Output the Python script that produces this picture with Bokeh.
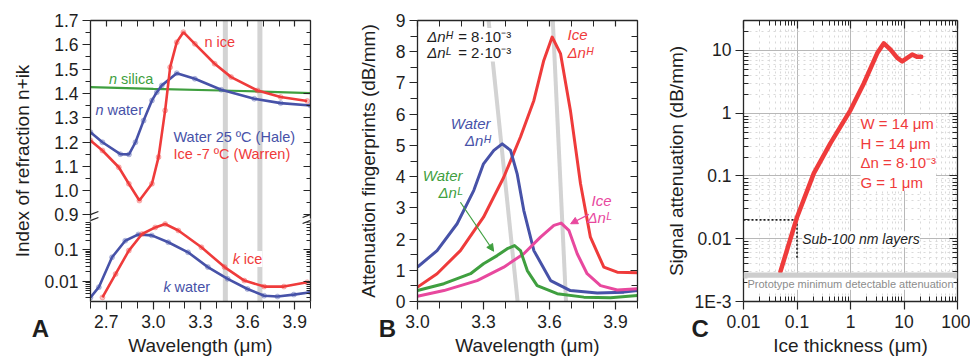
import math
from bokeh.plotting import figure
from bokeh.models import (Range1d, LinearAxis, LogAxis, LogScale, FixedTicker, Span,
                          Label, Arrow, NormalHead, Grid, Title)
from bokeh.layouts import row
from bokeh.embed import file_html
from bokeh.resources import INLINE

FONT = "Liberation Sans"
RED = "#ef3b3b"
BLUE = "#4752a8"
GREEN = "#3f9f3f"
PINK = "#e8489e"
BAR_GRAY = "#d3d3d3"
AXC = "#262626"
TXT = "#1e1e1e"
TICK_FS = "17.5px"
AXLAB_FS = "19px"
ANN_FS = "14.5px"
NBSP = "\u00a0"

# ---------------- Panel A data (refractive index) ----------------
a_wl_n_water = [2.60, 2.676, 2.79, 2.845, 2.886, 2.938, 2.991, 3.022, 3.054, 3.149, 3.264, 3.432, 3.642, 3.81, 4.00]
a_n_water = [1.240, 1.199, 1.150, 1.149, 1.199, 1.288, 1.371, 1.405, 1.433, 1.483, 1.460, 1.415, 1.378, 1.360, 1.350]

a_wl_n_ice = [2.60, 2.676, 2.78, 2.844, 2.911, 2.991, 3.033, 3.075, 3.107, 3.149, 3.191, 3.264, 3.39, 3.495, 3.663, 3.81, 3.979]
a_n_ice = [1.206, 1.165, 1.096, 1.028, 0.959, 1.028, 1.138, 1.330, 1.508, 1.611, 1.652, 1.604, 1.522, 1.467, 1.412, 1.385, 1.369]

a_wl_n_silica = [2.6, 3.0, 3.5, 4.0]
a_n_silica = [1.426, 1.419, 1.411, 1.401]

a_wl_k_water = [2.60, 2.653, 2.737, 2.821, 2.905, 2.99, 3.095, 3.221, 3.347, 3.473, 3.599, 3.705, 3.79, 3.894, 4.00]
a_k_water = [0.0031, 0.0065, 0.057, 0.19, 0.30, 0.28, 0.17, 0.082, 0.028, 0.0119, 0.0057, 0.0035, 0.0033, 0.0038, 0.0045]

a_wl_k_ice = [2.676, 2.76, 2.844, 2.928, 3.012, 3.075, 3.159, 3.306, 3.453, 3.579, 3.705, 3.831, 3.979]
a_k_ice = [0.0031, 0.017, 0.093, 0.31, 0.50, 0.64, 0.40, 0.118, 0.028, 0.0105, 0.0068, 0.0068, 0.0093]

a_bar_wl = [3.458, 3.678]

a_xticks = [2.7, 3.0, 3.3, 3.6, 3.9]
a_xlabels = ["2.7", "3.0", "3.3", "3.6", "3.9"]
a_xminor = [2.6, 2.8, 2.9, 3.1, 3.2, 3.4, 3.5, 3.7, 3.8, 4.0]
a_nticks = [0.9, 1.0, 1.1, 1.2, 1.3, 1.4, 1.5, 1.6, 1.7]
a_nlabels = ["0.9", "1.0", "1.1", "1.2", "1.3", "1.4", "1.5", "1.6", "1.7"]
a_nminor = [0.95, 1.05, 1.15, 1.25, 1.35, 1.45, 1.55, 1.65]
a_kticks = [0.01, 0.1]
a_klabels = ["0.01", "0.1"]

# ---------------- Panel B data (attenuation fingerprints) ----------------
b_wl_ice_h = [3.0, 3.089, 3.195, 3.30, 3.392, 3.468, 3.529, 3.574, 3.612, 3.65, 3.695, 3.741, 3.786, 3.847, 3.908, 4.0]
b_ice_h = [0.46, 0.89, 1.63, 2.70, 3.98, 5.27, 6.44, 7.72, 8.47, 7.94, 6.12, 3.77, 2.06, 1.10, 0.94, 0.92]

b_wl_water_h = [3.0, 3.089, 3.180, 3.256, 3.30, 3.347, 3.385, 3.423, 3.453, 3.483, 3.529, 3.605, 3.695, 3.817, 3.938, 4.0]
b_water_h = [1.10, 1.63, 2.49, 3.56, 4.41, 4.84, 5.05, 4.84, 4.09, 2.92, 1.63, 0.67, 0.35, 0.27, 0.30, 0.35]

b_wl_water_l = [3.0, 3.12, 3.241, 3.30, 3.362, 3.408, 3.441, 3.468, 3.499, 3.544, 3.635, 3.756, 3.877, 4.0]
b_water_l = [0.35, 0.57, 0.89, 1.21, 1.47, 1.69, 1.79, 1.63, 0.99, 0.51, 0.25, 0.14, 0.12, 0.19]

b_wl_ice_l = [3.0, 3.12, 3.271, 3.392, 3.483, 3.559, 3.62, 3.653, 3.688, 3.726, 3.771, 3.832, 3.908, 4.0]
b_ice_l = [0.17, 0.35, 0.67, 1.10, 1.53, 2.06, 2.44, 2.51, 2.28, 1.53, 0.89, 0.51, 0.37, 0.41]

b_guide1_wl = [3.323, 3.455]
b_guide1_v = [9.0, 0.0]
b_guide2_wl = [3.615, 3.675]
b_guide2_v = [9.0, 0.0]

b_xticks = [3.0, 3.3, 3.6, 3.9]
b_xlabels = ["3.0", "3.3", "3.6", "3.9"]
b_xminor = [3.1, 3.2, 3.4, 3.5, 3.7, 3.8, 4.0]
b_yticks = [0, 1, 2, 3, 4, 5, 6, 7, 8, 9]
b_ylabels = ["0", "1", "2", "3", "4", "5", "6", "7", "8", "9"]
b_yminor = [0.5, 1.5, 2.5, 3.5, 4.5, 5.5, 6.5, 7.5, 8.5]

# ---------------- Panel C data (signal attenuation vs thickness) ----------------
c_thick = [0.049, 0.1, 0.206, 0.42, 1.0, 1.78, 3.15, 4.2, 5.6, 7.5, 9.25, 11.5, 14.2, 17.7, 21.0]
c_atten = [0.0030, 0.022, 0.11, 0.33, 1.12, 3.0, 9.0, 13.0, 10.3, 7.6, 6.7, 7.6, 8.6, 7.9, 7.9]

c_dot_h_x = [0.01, 0.1]
c_dot_h_y = [0.02, 0.02]
c_dot_v_x = [0.1, 0.1]
c_dot_v_y = [0.02, 0.0048]
c_min_detectable = 0.0026

c_xticks = [0.01, 0.1, 1.0, 10.0, 100.0]
c_xlabels = ["0.01", "0.1", "1", "10", "100"]
c_yticks = [0.001, 0.01, 0.1, 1.0, 10.0]
c_ylabels = ["1E-3", "0.01", "0.1", "1", "10"]


def log_minors(decades, lo, hi):
    out = []
    for d in decades:
        for m in range(2, 10):
            v = m * d
            if lo <= v <= hi:
                out.append(v)
    return out


def style(ax, out_major, in_major, out_minor, in_minor, labels=None, standoff=4):
    ax.axis_line_color = AXC
    ax.axis_line_width = 1.3
    ax.major_tick_line_color = AXC
    ax.minor_tick_line_color = AXC
    ax.major_tick_line_width = 1.2
    ax.minor_tick_line_width = 1.0
    ax.major_tick_out = out_major
    ax.major_tick_in = in_major
    ax.minor_tick_out = out_minor
    ax.minor_tick_in = in_minor
    ax.major_label_text_font = FONT
    if labels is not None:
        ticks, texts = labels
        ax.major_label_overrides = {t: s for t, s in zip(ticks, texts)}
        ax.major_label_text_color = TXT
        ax.major_label_text_font_size = TICK_FS
        ax.major_label_standoff = standoff
    else:
        ax.major_label_text_font_size = "2px"
        ax.major_label_text_alpha = 0.0
        ax.major_label_standoff = 0
    return ax


def letter_axis(p, x_left, letter, pad, xlabel):
    """Second axis under the main one: carries the panel letter and the axis title."""
    ax = LinearAxis(ticker=FixedTicker(ticks=[x_left], minor_ticks=[]),
                    major_label_overrides={x_left: letter + NBSP * pad},
                    axis_line_color=None, major_tick_line_color=None, minor_tick_line_color=None,
                    major_tick_out=0, major_tick_in=0, minor_tick_out=0, minor_tick_in=0,
                    major_label_text_font=FONT, major_label_text_font_size="24px",
                    major_label_text_font_style="bold", major_label_text_color=TXT,
                    major_label_standoff=-16,
                    axis_label=xlabel, axis_label_text_font=FONT,
                    axis_label_text_font_size=AXLAB_FS, axis_label_text_font_style="normal",
                    axis_label_text_color=TXT, axis_label_standoff=-10)
    p.add_layout(ax, "below")


def lab(p, x, y, text, color=TXT, size=ANN_FS, fstyle="normal", align="left",
        baseline="middle", xoff=0, bg=None):
    L = Label(x=x, y=y, text=text, text_color=color, text_font=FONT, text_font_size=size,
              text_font_style=fstyle, text_align=align, text_baseline=baseline, x_offset=xoff)
    if bg is not None:
        L.background_fill_color = bg
        L.background_fill_alpha = 1.0
    p.add_layout(L)
    return L


def ytitle(p, text, standoff, offset=0):
    p.add_layout(Title(text=text, align="center", text_font=FONT, text_font_size=AXLAB_FS,
                       text_font_style="normal", text_color=TXT, standoff=standoff,
                       offset=offset), "left")


def base_fig(width, xr, yr, bl, br):
    return figure(width=width, height=359, x_range=xr, y_range=yr,
                  x_axis_type=None, y_axis_type=None, output_backend="svg",
                  toolbar_location=None, min_border_left=bl, min_border_right=br,
                  min_border_top=20, min_border_bottom=58, outline_line_color=None,
                  background_fill_color="white", border_fill_color="white")


# ======================= Panel A =======================
A_PX_PER_N = 243.0
A_PX_PER_DEC = 31.7
A_FRAME_H = 281.0
a_n_lo = 1.7 - A_FRAME_H / A_PX_PER_N
a_k_lo = 0.0023
a_k_top = 0.71
a_k_hi = 10 ** (math.log10(a_k_lo) + A_FRAME_H / A_PX_PER_DEC)
n_break = 0.885


def k_as_n(k):
    # position of a k value (log part) expressed on the shared linear axis
    return a_n_lo + (math.log10(k) - math.log10(a_k_lo)) * A_PX_PER_DEC / A_PX_PER_N


pA = base_fig(330, Range1d(2.6, 4.0), Range1d(a_n_lo, 1.7), 88, 20)
pA.extra_y_ranges = {"k": Range1d(a_k_lo, a_k_hi)}
pA.extra_y_scales = {"k": LogScale()}

for wl in a_bar_wl:
    pA.add_layout(Span(location=wl, dimension="height", line_color=BAR_GRAY,
                       line_width=5, level="underlay"))

pA.line(a_wl_n_silica, a_n_silica, line_color=GREEN, line_width=2.2)
pA.line(a_wl_n_water, a_n_water, line_color=BLUE, line_width=2.6)
pA.scatter(a_wl_n_water, a_n_water, size=5, fill_color=BLUE, line_color=BLUE, alpha=0.3)
pA.line(a_wl_n_ice, a_n_ice, line_color=RED, line_width=2.6)
pA.scatter(a_wl_n_ice, a_n_ice, size=5, fill_color=RED, line_color=RED, alpha=0.3)
pA.line(a_wl_k_water, a_k_water, y_range_name="k", line_color=BLUE, line_width=2.6)
pA.scatter(a_wl_k_water, a_k_water, y_range_name="k", size=5, fill_color=BLUE, line_color=BLUE, alpha=0.3)
pA.line(a_wl_k_ice, a_k_ice, y_range_name="k", line_color=RED, line_width=2.6)
pA.scatter(a_wl_k_ice, a_k_ice, y_range_name="k", size=5, fill_color=RED, line_color=RED, alpha=0.3)

pA.add_layout(style(LinearAxis(ticker=FixedTicker(ticks=a_xticks, minor_ticks=a_xminor)),
                    8, 0, 7, 0, labels=(a_xticks, a_xlabels), standoff=5), "below")
letter_axis(pA, 2.6, "A", 15, "Wavelength (μm)")
pA.add_layout(style(LinearAxis(ticker=FixedTicker(ticks=a_xticks, minor_ticks=a_xminor)),
                    0, 6, 0, 6), "above")

a_kminor = log_minors([0.001, 0.01, 0.1], a_k_lo, a_k_top)
a_left_ticks = a_nticks + [k_as_n(k) for k in a_kticks]
a_left_labels = a_nlabels + a_klabels
a_left_minor = a_nminor + [k_as_n(k) for k in a_kminor]
pA.add_layout(style(LinearAxis(ticker=FixedTicker(ticks=a_left_ticks, minor_ticks=a_left_minor),
                               bounds=(a_n_lo, 1.7)), 8, 0, 5, 0,
                    labels=(a_left_ticks, a_left_labels)), "left")
ytitle(pA, "Index of refraction n+ik", standoff=18, offset=9)
pA.add_layout(style(LinearAxis(ticker=FixedTicker(ticks=a_left_ticks, minor_ticks=a_left_minor),
                               bounds=(a_n_lo, 1.7)), 0, 7, 0, 4), "right")

# axis break: blank the axis lines in the gap, then draw the "//" marks
gap_mid = (n_break + k_as_n(a_k_top)) / 2
for xc in (2.6, 4.0):
    pA.add_layout(Arrow(end=None, x_start=xc - 0.02, y_start=gap_mid, x_end=xc + 0.02, y_end=gap_mid,
                        line_color="white", line_width=4))
for x0, x1 in [(2.5496, 2.6504), (3.9496, 4.0504)]:
    for y0, y1 in [(0.8893, 0.9140), (0.8646, 0.8893)]:
        pA.add_layout(Arrow(end=None, x_start=x0, y_start=y0, x_end=x1, y_end=y1,
                            line_color=AXC, line_width=1.3))

lab(pA, 3.325, 1.611, "n ice", RED)
lab(pA, 2.718, 1.460, "n", GREEN, fstyle="italic")
lab(pA, 2.718, 1.460, "silica", GREEN, xoff=12)
lab(pA, 2.632, 1.330, "n", BLUE, fstyle="italic")
lab(pA, 2.632, 1.330, "water", BLUE, xoff=12)
lab(pA, 3.128, 1.220, "Water 25 ºC (Hale)", BLUE)
lab(pA, 3.128, 1.149, "Ice -7 ºC (Warren)", RED)
lab(pA, 3.506, 0.719, "k", RED, fstyle="italic")
lab(pA, 3.506, 0.719, "ice", RED, xoff=11, bg="white")
lab(pA, 3.065, 0.605, "k", BLUE, fstyle="italic")
lab(pA, 3.065, 0.605, "water", BLUE, xoff=11)

# ======================= Panel B =======================
pB = base_fig(324, Range1d(3.0, 4.0), Range1d(0, 9), 87, 17)
pB.line(b_guide1_wl, b_guide1_v, line_color=BAR_GRAY, line_width=4)
pB.line(b_guide2_wl, b_guide2_v, line_color=BAR_GRAY, line_width=4)
pB.line(b_wl_ice_h, b_ice_h, line_color=RED, line_width=3, line_join="round")
pB.line(b_wl_water_h, b_water_h, line_color=BLUE, line_width=3, line_join="round")
pB.line(b_wl_ice_l, b_ice_l, line_color=PINK, line_width=3, line_join="round")
pB.line(b_wl_water_l, b_water_l, line_color=GREEN, line_width=3, line_join="round")

pB.add_layout(style(LinearAxis(ticker=FixedTicker(ticks=b_xticks, minor_ticks=b_xminor)),
                    8, 0, 7, 0, labels=(b_xticks, b_xlabels), standoff=5), "below")
letter_axis(pB, 3.0, "B", 9, "Wavelength (μm)")
pB.add_layout(style(LinearAxis(ticker=FixedTicker(ticks=b_xticks, minor_ticks=b_xminor)),
                    0, 6, 0, 6), "above")
pB.add_layout(style(LinearAxis(ticker=FixedTicker(ticks=b_yticks, minor_ticks=b_yminor)),
                    8, 0, 7, 0, labels=(b_yticks, b_ylabels)), "left")
ytitle(pB, "Attenuation fingerprints (dB/mm)", standoff=27)
pB.add_layout(style(LinearAxis(ticker=FixedTicker(ticks=b_yticks, minor_ticks=b_yminor)),
                    0, 7, 0, 6), "right")

BFS = "15px"
lab(pB, 3.044, 8.49, "Δnᴴ", size=BFS, fstyle="italic")
lab(pB, 3.044, 8.49, "= 8·10⁻³", size=BFS, xoff=31, bg="white")
lab(pB, 3.044, 7.96, "Δnᴸ", size=BFS, fstyle="italic")
lab(pB, 3.044, 7.96, "= 2·10⁻³", size=BFS, xoff=31, bg="white")
lab(pB, 3.332, 5.69, "Water", BLUE, size=BFS, fstyle="italic", align="right")
lab(pB, 3.332, 5.16, "Δnᴴ", BLUE, size=BFS, fstyle="italic", align="right")
lab(pB, 3.682, 8.56, "Ice", RED, size=BFS, fstyle="italic")
lab(pB, 3.682, 7.99, "Δnᴴ", RED, size=BFS, fstyle="italic")
lab(pB, 3.205, 4.04, "Water", GREEN, size=BFS, fstyle="italic", align="right")
lab(pB, 3.205, 3.50, "Δnᴸ", GREEN, size=BFS, fstyle="italic", align="right")
lab(pB, 3.882, 3.24, "Ice", PINK, size=BFS, fstyle="italic", align="right")
lab(pB, 3.882, 2.70, "Δnᴸ", PINK, size=BFS, fstyle="italic", align="right")
pB.add_layout(Arrow(end=NormalHead(size=7, fill_color=GREEN, line_color=GREEN),
                    x_start=3.195, y_start=3.18, x_end=3.346, y_end=1.61,
                    line_color=GREEN, line_width=1.2))
pB.add_layout(Arrow(end=NormalHead(size=7, fill_color=PINK, line_color=PINK),
                    x_start=3.779, y_start=2.79, x_end=3.696, y_end=2.49,
                    line_color=PINK, line_width=1.2))

# ======================= Panel C =======================
pC = base_fig(316, Range1d(0.01, 100), Range1d(0.001, 30), 89, 13)
pC.x_scale = LogScale()
pC.y_scale = LogScale()

c_xminor = log_minors([0.01, 0.1, 1.0, 10.0], 0.01, 100)
c_yminor = log_minors([0.001, 0.01, 0.1, 1.0, 10.0], 0.001, 30)
for dim, tk, mn in [(0, c_xticks, c_xminor), (1, c_yticks, c_yminor)]:
    pC.add_layout(Grid(dimension=dim, ticker=FixedTicker(ticks=tk, minor_ticks=mn),
                       grid_line_color="#b8b8b8", grid_line_width=1,
                       minor_grid_line_color="#d9d9d9", minor_grid_line_dash="dotted",
                       minor_grid_line_width=1))

pC.add_layout(Span(location=c_min_detectable, dimension="width", line_color="#cdcdcd", line_width=6))
pC.line(c_dot_h_x, c_dot_h_y, line_color=TXT, line_width=1.6, line_dash="2 2")
pC.line(c_dot_v_x, c_dot_v_y, line_color=TXT, line_width=1.6, line_dash="2 2")
pC.line(c_thick, c_atten, line_color=RED, line_width=4.5, line_join="round", line_cap="round")

pC.add_layout(style(LogAxis(ticker=FixedTicker(ticks=c_xticks, minor_ticks=c_xminor)),
                    8, 0, 0, 5, labels=(c_xticks, c_xlabels), standoff=5), "below")
letter_axis(pC, 0.01, "C", 13, "Ice thickness (μm)")
pC.add_layout(style(LogAxis(ticker=FixedTicker(ticks=c_xticks, minor_ticks=c_xminor)),
                    0, 8, 0, 5), "above")
pC.add_layout(style(LogAxis(ticker=FixedTicker(ticks=c_yticks, minor_ticks=c_yminor)),
                    8, 0, 0, 5, labels=(c_yticks, c_ylabels)), "left")
ytitle(pC, "Signal attenuation (dB/mm)", standoff=9)
pC.add_layout(style(LogAxis(ticker=FixedTicker(ticks=c_yticks, minor_ticks=c_yminor)),
                    0, 8, 0, 5), "right")

params = Label(x=1.54, y=0.935, text="W = 14 μm\nH = 14 μm\nΔn = 8·10⁻³\nG = 1 μm",
               text_color=RED, text_font=FONT, text_font_size="15px", text_align="left",
               text_baseline="top", text_line_height=1.15,
               background_fill_color="white", background_fill_alpha=1.0)
pC.add_layout(params)
lab(pC, 0.125, 0.00978, "Sub-100 nm layers", size="14px", fstyle="italic", bg="white")
lab(pC, 1.0, 0.00192, "Prototype minimum detectable attenuation", "#8c8c8c", size="11px",
    align="center", bg="white")

layout = row(pA, pB, pC)
open("out.html", "w").write(file_html(layout, INLINE, "Ice and water fingerprints"))
